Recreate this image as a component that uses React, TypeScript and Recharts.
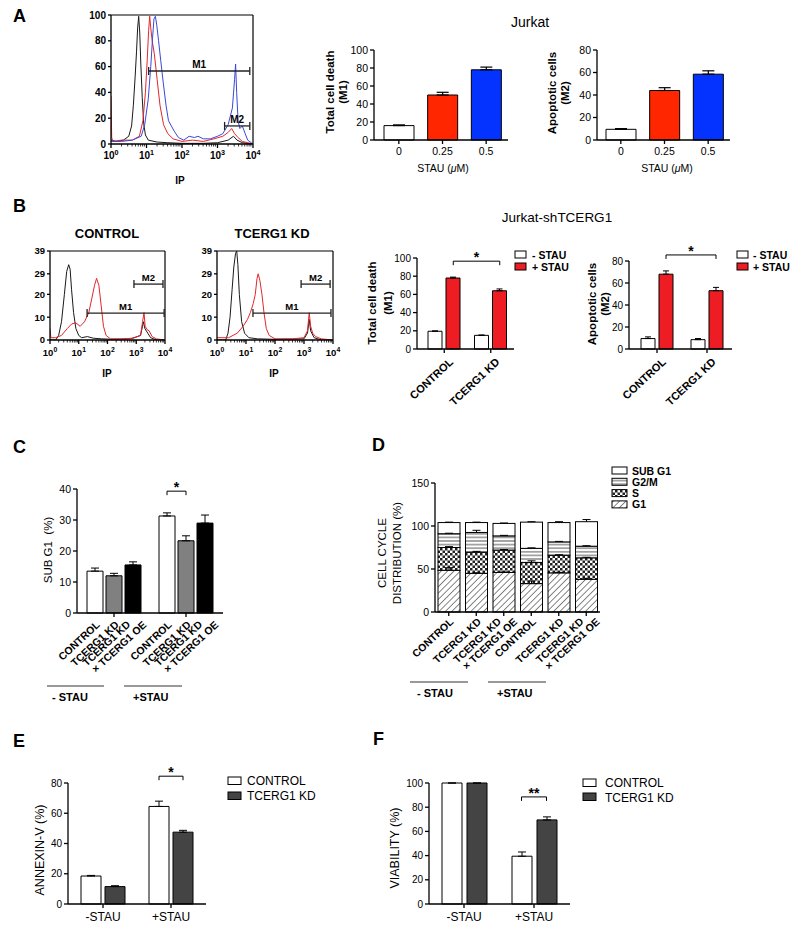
import React from 'react';
import { BarChart, Bar, XAxis, YAxis, LineChart, Line, ReferenceLine, ErrorBar, Cell } from 'recharts';

const FONT = '"Liberation Sans", Arial, Helvetica, sans-serif';

// ================= DATA =================
// Panel A histogram, x = log10(IP intensity), y = counts
const histA_black = [[0,3],[0.15,2],[0.35,3],[0.5,6],[0.58,14],[0.63,30],[0.68,52],[0.72,72],[0.75,90],[0.78,99],[0.81,86],[0.84,62],[0.88,36],[0.92,16],[0.97,7],[1.05,3],[1.3,1.5],[1.6,1],[2.0,0.5],[2.6,0.5],[3.0,1],[3.3,3],[3.45,6],[3.55,3],[3.7,1],[4,0]];
const histA_red = [[0,37],[0.02,5],[0.05,2],[0.3,3],[0.6,3],[0.8,6],[0.9,18],[0.97,40],[1.02,65],[1.06,88],[1.09,99],[1.12,90],[1.16,80],[1.22,70],[1.3,50],[1.38,30],[1.48,15],[1.6,8],[1.75,4],[2.0,2],[2.3,3],[2.6,2],[2.9,4],[3.15,6],[3.3,9],[3.4,12],[3.48,8],[3.58,5],[3.7,2],[3.85,1],[4,0]];
const histA_blue = [[0,2],[0.3,2],[0.6,3],[0.85,6],[0.95,15],[1.05,35],[1.12,60],[1.17,82],[1.21,97],[1.25,99],[1.29,92],[1.34,80],[1.4,65],[1.47,48],[1.55,30],[1.62,18],[1.7,14],[1.78,10],[1.9,5],[2.05,3],[2.2,6],[2.35,5],[2.45,6],[2.6,4],[2.8,4],[3.0,6],[3.15,8],[3.3,15],[3.42,28],[3.48,50],[3.51,62],[3.54,40],[3.58,18],[3.63,12],[3.7,14],[3.78,8],[3.85,3],[3.95,1],[4,0]];
const gatesA = [
  { name: 'M1', from: 1.06, to: 3.91, level: 56.6 },
  { name: 'M2', from: 3.2, to: 3.91, level: 14 },
];

// Panel A bars
const A_doses = ['0', '0.25', '0.5'];
const A_totalDeath = [16, 50, 78];
const A_totalDeathErr = [0.8, 3, 3];
const A_apoptotic = [9.5, 44, 58.5];
const A_apoptoticErr = [0.6, 2.5, 3];

// Panel B histograms
const histB1_black = [[0,0],[0.2,0],[0.3,2],[0.4,8],[0.5,20],[0.58,30],[0.65,33],[0.7,31],[0.75,22],[0.82,12],[0.9,5],[1.0,2],[1.1,1],[1.3,1.5],[1.5,0.8],[1.8,0.5],[2.2,0.3],[2.8,0.5],[3.15,2],[3.25,8],[3.3,5],[3.4,3],[3.5,1],[3.7,0],[4,0]];
const histB1_red = [[0,5],[0.03,1],[0.2,1],[0.4,2],[0.6,5],[0.75,7],[0.9,7.5],[1.05,6],[1.2,8],[1.35,12],[1.45,18],[1.55,24],[1.62,27],[1.7,24],[1.78,15],[1.86,6],[1.95,2],[2.1,0.5],[2.5,0.5],[2.9,0.8],[3.15,2],[3.22,8],[3.27,12],[3.31,6],[3.38,4.5],[3.45,4],[3.55,1.5],[3.7,0.5],[4,0]];
const histB2_black = [[0,0],[0.3,0],[0.38,3],[0.45,10],[0.52,22],[0.58,32],[0.64,38],[0.68,39],[0.72,33],[0.77,20],[0.85,8],[0.95,3],[1.1,1],[1.4,0.5],[2,0.3],[3,0.5],[3.12,3],[3.18,9],[3.23,4],[3.35,1],[3.6,0],[4,0]];
const histB2_red = [[0,1],[0.4,1],[0.7,3],[0.9,6],[1.05,9],[1.15,12],[1.25,16],[1.32,20],[1.38,27],[1.42,29],[1.48,26],[1.55,20],[1.62,12],[1.7,5],[1.8,2],[2,0.5],[2.6,0.5],[3.0,1],[3.12,4],[3.18,12],[3.23,6],[3.3,3],[3.4,1.5],[3.6,0.5],[4,0]];
const gatesB1 = [
  { name: 'M1', from: 1.29, to: 3.97, level: 11.8 },
  { name: 'M2', from: 2.92, to: 3.93, level: 24.5 },
];
const gatesB2 = [
  { name: 'M1', from: 1.24, to: 3.93, level: 11.8 },
  { name: 'M2', from: 2.9, to: 3.9, level: 24.5 },
];

// Panel B bars
const B_groups = ['CONTROL', 'TCERG1 KD'];
const B_deathMinus = [19.5, 15];
const B_deathMinusErr = [0.4, 0.4];
const B_deathPlus = [78, 64];
const B_deathPlusErr = [1, 2];
const B_apopMinus = [9.5, 8.5];
const B_apopMinusErr = [1.5, 1];
const B_apopPlus = [68, 53];
const B_apopPlusErr = [3, 3];
const B1_sigLevel = 96.5;
const B2_sigLevel = 85.5;

// Panel C
const C_groups = ['- STAU', '+STAU'];
const C_barLabels = ['CONTROL', 'TCERG1 KD', 'TCERG1 KD × TCERG1 OE'];
const C_control = [13.5, 31.3];
const C_controlErr = [1, 1];
const C_kd = [12, 23.3];
const C_kdErr = [0.8, 1.6];
const C_oe = [15.5, 29];
const C_oeErr = [1, 2.6];
const C_sigLevel = 39.3;

// Panel D
const D_labels = ['CONTROL', 'TCERG1 KD', 'TCERG1 KD × TCERG1 OE', 'CONTROL', 'TCERG1 KD', 'TCERG1 KD × TCERG1 OE'];
const D_g1 = [48.5, 45, 46, 33, 45.5, 38];
const D_g1Err = [3, 0.6, 0.5, 3, 0.6, 1.2];
const D_s = [26.5, 24.5, 26, 24.5, 20.5, 25];
const D_sErr = [1, 1, 0.6, 2, 0.6, 0.6];
const D_g2m = [16, 23, 16.5, 16.5, 15.5, 13.5];
const D_g2mErr = [0.6, 2.5, 0.6, 0.6, 0.6, 0.6];
const D_sub = [13, 11.5, 14.5, 30.5, 22.5, 28.5];
const D_subErr = [0.5, 0.5, 0.5, 0.5, 1, 2.5];
const D_legend = ['SUB G1', 'G2/M', 'S', 'G1'];

// Panel E
const E_groups = ['-STAU', '+STAU'];
const E_control = [18.5, 64.5];
const E_controlErr = [0.4, 3.5];
const E_kd = [11.5, 47.5];
const E_kdErr = [0.6, 1.2];
const E_sigLevel = 84.5;

// Panel F
const F_groups = ['-STAU', '+STAU'];
const F_control = [100, 39.5];
const F_controlErr = [0, 3.5];
const F_kd = [100, 69.5];
const F_kdErr = [0, 2.5];
const F_sigLevel = 88.5;

// ================= STYLES =================
const A_colors = ['#ffffff', '#ff2600', '#0433ff'];
const B_red = '#ee1d23';
const C_gray = '#808080';
const EF_dark = '#444444';
const H_black = '#1a1a1a';
const H_red = '#e3262a';
const H_blue = '#3a48d8';
const D_fills = ['url(#pG1)', 'url(#pS)', 'url(#pG2M)', '#ffffff'];

// ================= TABLES =================
const toPts = (arr: number[][]) => arr.map(([x, y]) => ({ x, y }));
const rowsA1 = A_doses.map((d, i) => ({ dose: d, v: A_totalDeath[i], e: [0, A_totalDeathErr[i]] }));
const rowsA2 = A_doses.map((d, i) => ({ dose: d, v: A_apoptotic[i], e: [0, A_apoptoticErr[i]] }));
const rowsB1 = B_groups.map((g, i) => ({ g, minus: B_deathMinus[i], minusE: [0, B_deathMinusErr[i]], plus: B_deathPlus[i], plusE: [0, B_deathPlusErr[i]] }));
const rowsB2 = B_groups.map((g, i) => ({ g, minus: B_apopMinus[i], minusE: [0, B_apopMinusErr[i]], plus: B_apopPlus[i], plusE: [0, B_apopPlusErr[i]] }));
const rowsC = C_groups.map((g, i) => ({ g, control: C_control[i], controlE: [0, C_controlErr[i]], kd: C_kd[i], kdE: [0, C_kdErr[i]], oe: C_oe[i], oeE: [0, C_oeErr[i]] }));
const rowsD = D_labels.map((_, i) => ({ id: String(i), g1: D_g1[i], g1E: D_g1Err[i], s: D_s[i], sE: D_sErr[i], g2m: D_g2m[i], g2mE: D_g2mErr[i], sub: D_sub[i], subE: D_subErr[i] }));
const rowsE = E_groups.map((g, i) => ({ g, control: E_control[i], controlE: [0, E_controlErr[i]], kd: E_kd[i], kdE: [0, E_kdErr[i]] }));
const rowsF = F_groups.map((g, i) => ({ g, control: F_control[i], controlE: [0, F_controlErr[i]], kd: F_kd[i], kdE: [0, F_kdErr[i]] }));
const D_keys = ['g1', 's', 'g2m', 'sub'];

// ================= HELPERS =================
const At = ({ x, y, children }: any) => <div style={{ position: 'absolute', left: x, top: y }}>{children}</div>;

const LogTick = (p: any) => {
  const { x, y, payload, decade, fs, dy } = p;
  const v = payload.value;
  const ay = y - 6;
  const minors = v < 4 ? [2, 3, 4, 5, 6, 7, 8, 9].map((k) => x + Math.log10(k) * decade) : [];
  return (
    <g>
      {minors.map((mx, i) => (
        <line key={i} x1={mx} x2={mx} y1={ay} y2={ay + 2.5} stroke="#000" strokeWidth={0.8} />
      ))}
      <text x={x} y={y} dy={dy} textAnchor="middle" fontSize={fs} fontWeight="bold" fill="#000" fontFamily={FONT}>
        <tspan>10</tspan>
        <tspan dy={-fs * 0.45} fontSize={fs * 0.72}>{v}</tspan>
      </text>
    </g>
  );
};

const gateShape = (name: string, fs: number) => (p: any) => {
  const { x1, x2, y1 } = p;
  const c = '#222';
  return (
    <g>
      <line x1={x1} x2={x2} y1={y1} y2={y1} stroke={c} strokeWidth={1.3} />
      <line x1={x1} x2={x1} y1={y1 - 4} y2={y1 + 4} stroke={c} strokeWidth={1.3} />
      <line x1={x2} x2={x2} y1={y1 - 4} y2={y1 + 4} stroke={c} strokeWidth={1.3} />
      <text x={(x1 + x2) / 2} y={y1 - 3} textAnchor="middle" fontSize={fs} fontWeight="bold" fill="#000" fontFamily={FONT}>{name}</text>
    </g>
  );
};

const bracketShape = (dx1: number, dx2: number, label: string) => (p: any) => {
  const x1 = p.x1 + dx1;
  const x2 = p.x2 + dx2;
  const y = p.y1;
  return (
    <g>
      <path d={`M${x1},${y + 4} L${x1},${y} L${x2},${y} L${x2},${y + 4}`} fill="none" stroke="#000" strokeWidth={1} />
      <text x={(x1 + x2) / 2} y={y + 1} textAnchor="middle" fontSize={14} fontWeight="bold" fill="#000" fontFamily={FONT}>{label}</text>
    </g>
  );
};

function RotLabel({ ax, ay, text, fs, angle = -43 }: any) {
  const parts = text.split(' × ');
  const tr = `rotate(${angle} ${ax} ${ay})`;
  if (parts.length === 1) {
    return (
      <text x={ax} y={ay} dy="0.35em" transform={tr} textAnchor="end" fontSize={fs} fontWeight="bold" fill="#000" fontFamily={FONT}>{text}</text>
    );
  }
  return (
    <text x={ax} y={ay} transform={tr} textAnchor="end" fontSize={fs} fontWeight="bold" fill="#000" fontFamily={FONT}>
      <tspan x={ax - fs * 0.5} dy="-0.15em">{parts[0]}</tspan>
      <tspan x={ax + fs * 0.6} dy="1.05em">{'× ' + parts[1]}</tspan>
    </text>
  );
}

const BTick = (p: any) => <RotLabel ax={p.x + 7} ay={p.y + 5} text={p.payload.value} fs={11} />;
const CTick = (p: any) => (
  <g>
    {C_barLabels.map((lab, i) => (
      <RotLabel key={i} ax={p.x + (i - 1) * 19 + 3} ay={p.y + 4} text={lab} fs={10.5} />
    ))}
  </g>
);
const DTick = (p: any) => <RotLabel ax={p.x + 3} ay={p.y + 2} text={D_labels[Number(p.payload.value)]} fs={10.5} />;

const segShape = (idx: number) => (p: any) => {
  const { x, width, payload } = p;
  const y = Math.min(p.y, p.y + p.height);
  const h = Math.abs(p.height);
  const key = D_keys[idx];
  const seg = payload[key];
  const ppu = seg > 0 ? h / seg : 0;
  const cx = x + width / 2;
  const errs: { y0: number; len: number }[] = [];
  if (idx > 0) errs.push({ y0: y + h, len: payload[D_keys[idx - 1] + 'E'] * ppu });
  if (idx === D_keys.length - 1) errs.push({ y0: y, len: payload[key + 'E'] * ppu });
  return (
    <g>
      <rect x={x} y={y} width={width} height={h} fill={D_fills[idx]} stroke="#000" strokeWidth={1} />
      {errs.map((e, i) =>
        e.len > 0 ? (
          <g key={i}>
            <line x1={cx} x2={cx} y1={e.y0} y2={e.y0 - e.len} stroke="#000" strokeWidth={1} />
            <line x1={cx - 4} x2={cx + 4} y1={e.y0 - e.len} y2={e.y0 - e.len} stroke="#000" strokeWidth={1} />
          </g>
        ) : null
      )}
    </g>
  );
};

const AX = { stroke: '#000', strokeWidth: 1.3 };

function Histogram({ x, y, W, H, curves, gates, yMax, yTicks, decade, fs, tickDy }: any) {
  return (
    <At x={x} y={y}>
      <LineChart width={W} height={H} margin={{ top: 5, right: 8, bottom: 0, left: 0 }}>
        <XAxis type="number" dataKey="x" domain={[0, 4]} ticks={[0, 1, 2, 3, 4]} interval={0} height={H === 174 ? 40 : 30} {...AX} tickSize={4}
          tick={(p: any) => <LogTick {...p} decade={decade} fs={fs} dy={tickDy} />} allowDataOverflow />
        <YAxis type="number" domain={[0, yMax]} ticks={yTicks} interval={0} width={H === 174 ? 30 : 24} {...AX} tickSize={3}
          tick={{ fontSize: fs, fontWeight: 'bold', fill: '#000' }} allowDataOverflow />
        <ReferenceLine y={yMax} stroke="#000" strokeWidth={1.2} />
        <ReferenceLine x={4} stroke="#000" strokeWidth={1.2} />
        {curves.map((c: any, i: number) => (
          <Line key={i} data={toPts(c.data)} dataKey="y" type="linear" stroke={c.color} strokeWidth={1} dot={false} isAnimationActive={false} />
        ))}
        {gates.map((g: any) => (
          <ReferenceLine key={g.name} segment={[{ x: g.from, y: g.level }, { x: g.to, y: g.level }]} ifOverflow="visible" shape={gateShape(g.name, fs)} />
        ))}
      </LineChart>
    </At>
  );
}

function Overlay() {
  const T = (props: any) => <text fill="#000" fontFamily={FONT} {...props} />;
  const VT = ({ x, y, children, ...rest }: any) => (
    <text x={x} y={y} transform={`rotate(-90 ${x} ${y})`} textAnchor="middle" fill="#000" fontFamily={FONT} {...rest}>{children}</text>
  );
  const letter = { fontSize: 18, fontWeight: 'bold' };
  return (
    <svg width={800} height={936} style={{ position: 'absolute', left: 0, top: 0, pointerEvents: 'none' }}>
      <defs>
        <pattern id="pG1" width="4.5" height="4.5" patternUnits="userSpaceOnUse" patternTransform="rotate(45)">
          <rect width="4.5" height="4.5" fill="#fff" />
          <line x1="0" y1="0" x2="0" y2="4.5" stroke="#222" strokeWidth="1.1" />
        </pattern>
        <pattern id="pS" width="5" height="5" patternUnits="userSpaceOnUse">
          <rect width="5" height="5" fill="#fff" />
          <rect x="0" y="0" width="2.5" height="2.5" fill="#222" />
          <rect x="2.5" y="2.5" width="2.5" height="2.5" fill="#222" />
        </pattern>
        <pattern id="pG2M" width="4" height="3.6" patternUnits="userSpaceOnUse">
          <rect width="4" height="3.6" fill="#fff" />
          <line x1="0" y1="1.8" x2="4" y2="1.8" stroke="#555" strokeWidth="1" />
        </pattern>
      </defs>

      {/* panel letters */}
      <T x={13} y={22} {...letter}>A</T>
      <T x={13} y={212} {...letter}>B</T>
      <T x={13} y={453} {...letter}>C</T>
      <T x={372} y={451} {...letter}>D</T>
      <T x={13} y={747} {...letter}>E</T>
      <T x={373} y={745} {...letter}>F</T>

      {/* titles */}
      <T x={530} y={27} fontSize={14} textAnchor="middle">Jurkat</T>
      <T x={557} y={222} fontSize={13.5} textAnchor="middle">Jurkat-shTCERG1</T>
      <T x={107} y={238} fontSize={13} fontWeight="bold" textAnchor="middle">CONTROL</T>
      <T x={272} y={238} fontSize={13} fontWeight="bold" textAnchor="middle">TCERG1 KD</T>

      {/* IP labels */}
      <T x={180} y={184} fontSize={10} fontWeight="bold" textAnchor="middle">IP</T>
      <T x={107} y={377} fontSize={10} fontWeight="bold" textAnchor="middle">IP</T>
      <T x={274} y={377} fontSize={10} fontWeight="bold" textAnchor="middle">IP</T>

      {/* A x titles */}
      <T x={443} y={172} fontSize={10.5} textAnchor="middle">STAU (<tspan fontStyle="italic">μ</tspan>M)</T>
      <T x={667} y={172} fontSize={10.5} textAnchor="middle">STAU (<tspan fontStyle="italic">μ</tspan>M)</T>

      {/* y labels */}
      <VT x={334} y={92} fontSize={11.5} fontWeight="bold">Total cell death</VT>
      <VT x={347} y={92} fontSize={11.5} fontWeight="bold">(M1)</VT>
      <VT x={556} y={93} fontSize={11.5} fontWeight="bold">Apoptotic cells</VT>
      <VT x={569} y={93} fontSize={11.5} fontWeight="bold">(M2)</VT>
      <VT x={376} y={303} fontSize={11.5} fontWeight="bold">Total cell death</VT>
      <VT x={392} y={303} fontSize={11.5} fontWeight="bold">(M1)</VT>
      <VT x={596} y={304} fontSize={11.5} fontWeight="bold">Apoptotic cells</VT>
      <VT x={609} y={304} fontSize={11.5} fontWeight="bold">(M2)</VT>
      <VT x={52} y={550} fontSize={11.5}>{'SUB G1\u00a0 (%)'}</VT>
      <VT x={386} y={553} fontSize={11.5}>CELL CYCLE</VT>
      <VT x={401} y={553} fontSize={11.5}>DISTRIBUTION (%)</VT>
      <VT x={44} y={850} fontSize={12.5}>ANNEXIN-V (%)</VT>
      <VT x={399} y={848} fontSize={12.5}>VIABILITY (%)</VT>

      {/* B legends */}
      <rect x={515} y={251} width={11} height={7} fill="#fff" stroke="#000" />
      <rect x={515} y={263} width={11} height={7} fill={B_red} stroke="#000" />
      <T x={532} y={258.5} fontSize={10.5} fontWeight="bold">- STAU</T>
      <T x={532} y={270.5} fontSize={10.5} fontWeight="bold">+ STAU</T>
      <rect x={737} y={251} width={11} height={7} fill="#fff" stroke="#000" />
      <rect x={737} y={263} width={11} height={7} fill={B_red} stroke="#000" />
      <T x={753} y={258.5} fontSize={10.5} fontWeight="bold">- STAU</T>
      <T x={753} y={270.5} fontSize={10.5} fontWeight="bold">+ STAU</T>

      {/* D legend */}
      {D_legend.map((name, i) => (
        <g key={name}>
          <rect x={612} y={467 + i * 11.3} width={15} height={7} fill={D_fills[3 - i]} stroke="#000" />
          <T x={632} y={474.5 + i * 11.3} fontSize={10.5} fontWeight="bold">{name}</T>
        </g>
      ))}

      {/* E legend */}
      <rect x={228} y={777} width={13} height={7.5} fill="#fff" stroke="#000" />
      <rect x={228} y={792} width={13} height={7.5} fill={EF_dark} stroke="#000" />
      <T x={247} y={785} fontSize={12}>CONTROL</T>
      <T x={247} y={799.5} fontSize={12}>TCERG1 KD</T>
      {/* F legend */}
      <rect x={583} y={779} width={13} height={7.5} fill="#fff" stroke="#000" />
      <rect x={583} y={793} width={13} height={7.5} fill={EF_dark} stroke="#000" />
      <T x={605} y={787} fontSize={12}>CONTROL</T>
      <T x={605} y={801.5} fontSize={12}>TCERG1 KD</T>

      {/* C / D treatment group lines */}
      <line x1={47} x2={104} y1={686} y2={686} stroke="#777" strokeWidth={1.5} />
      <line x1={124} x2={182} y1={686} y2={686} stroke="#777" strokeWidth={1.5} />
      <T x={52} y={701} fontSize={11} fontWeight="bold">- STAU</T>
      <T x={133} y={701} fontSize={11} fontWeight="bold">+STAU</T>
      <line x1={410} x2={468} y1={682} y2={682} stroke="#777" strokeWidth={1.5} />
      <line x1={488} x2={546} y1={682} y2={682} stroke="#777" strokeWidth={1.5} />
      <T x={417} y={697} fontSize={11} fontWeight="bold">- STAU</T>
      <T x={497} y={697} fontSize={11} fontWeight="bold">+STAU</T>
    </svg>
  );
}

const tk = (fs: number) => ({ fontSize: fs, fill: '#000' });

export default function App() {
  return (
    <div style={{ position: 'absolute', left: 0, top: 0, width: 800, height: 936, background: '#fff', fontFamily: FONT, overflow: 'hidden' }}>
      {/* ===== A histogram ===== */}
      <Histogram x={81} y={10} W={180} H={174} yMax={100} yTicks={[0, 20, 40, 60, 80, 100]} decade={35} fs={10} tickDy="0.9em"
        curves={[{ data: histA_black, color: H_black }, { data: histA_red, color: H_red }, { data: histA_blue, color: H_blue }]} gates={gatesA} />

      {/* ===== A bars ===== */}
      <At x={342} y={45}>
        <BarChart width={166} height={131} data={rowsA1} margin={{ top: 5, right: 0, bottom: 0, left: 0 }}>
          <XAxis dataKey="dose" {...AX} tickSize={4} tickMargin={4} height={36} padding={{ left: 3, right: 0 }} tick={tk(10.5)} interval={0} />
          <YAxis domain={[0, 100]} ticks={[0, 20, 40, 60, 80, 100]} interval={0} width={32} {...AX} tickSize={4} tick={tk(10.5)} />
          <Bar dataKey="v" barSize={30} stroke="#000" strokeWidth={1} isAnimationActive={false}>
            {rowsA1.map((r, i) => <Cell key={r.dose} fill={A_colors[i]} />)}
            <ErrorBar dataKey="e" width={6} stroke="#000" strokeWidth={1.2} direction="y" />
          </Bar>
        </BarChart>
      </At>
      <At x={565} y={45}>
        <BarChart width={165} height={131} data={rowsA2} margin={{ top: 5, right: 0, bottom: 0, left: 0 }}>
          <XAxis dataKey="dose" {...AX} tickSize={4} tickMargin={4} height={36} padding={{ left: 2, right: 0 }} tick={tk(10.5)} interval={0} />
          <YAxis domain={[0, 80]} ticks={[0, 20, 40, 60, 80]} interval={0} width={32} {...AX} tickSize={4} tick={tk(10.5)} />
          <Bar dataKey="v" barSize={30} stroke="#000" strokeWidth={1} isAnimationActive={false}>
            {rowsA2.map((r, i) => <Cell key={r.dose} fill={A_colors[i]} />)}
            <ErrorBar dataKey="e" width={6} stroke="#000" strokeWidth={1.2} direction="y" />
          </Bar>
        </BarChart>
      </At>

      {/* ===== B histograms ===== */}
      <Histogram x={26} y={246} W={147} H={124} yMax={39} yTicks={[0, 10, 20, 29, 39]} decade={28.75} fs={9.5} tickDy="1.05em"
        curves={[{ data: histB1_black, color: H_black }, { data: histB1_red, color: H_red }]} gates={gatesB1} />
      <Histogram x={193} y={246} W={148} H={124} yMax={39} yTicks={[0, 10, 20, 29, 39]} decade={29} fs={9.5} tickDy="1.05em"
        curves={[{ data: histB2_black, color: H_black }, { data: histB2_red, color: H_red }]} gates={gatesB2} />

      {/* ===== B bars ===== */}
      <At x={387} y={236}>
        <BarChart width={127} height={173} data={rowsB1} margin={{ top: 22, right: 0, bottom: 0, left: 0 }} barGap={4}>
          <XAxis dataKey="g" {...AX} tickSize={4} height={60} padding={{ left: 4, right: 0 }} interval={0} tick={BTick} />
          <YAxis domain={[0, 100]} ticks={[0, 20, 40, 60, 80, 100]} interval={0} width={30} {...AX} tickSize={4} tick={tk(10)} />
          <Bar dataKey="minus" barSize={14} fill="#fff" stroke="#000" strokeWidth={1} isAnimationActive={false}>
            <ErrorBar dataKey="minusE" width={3} stroke="#000" strokeWidth={1} direction="y" />
          </Bar>
          <Bar dataKey="plus" barSize={14} fill={B_red} stroke="#000" strokeWidth={1} isAnimationActive={false}>
            <ErrorBar dataKey="plusE" width={3} stroke="#000" strokeWidth={1} direction="y" />
          </Bar>
          <ReferenceLine segment={[{ x: B_groups[0], y: B1_sigLevel }, { x: B_groups[1], y: B1_sigLevel }]} ifOverflow="visible" shape={bracketShape(9, 9, '*')} />
        </BarChart>
      </At>
      <At x={599} y={236}>
        <BarChart width={133} height={173} data={rowsB2} margin={{ top: 25, right: 0, bottom: 0, left: 0 }} barGap={4}>
          <XAxis dataKey="g" {...AX} tickSize={4} height={60} padding={{ left: 3, right: 0 }} interval={0} tick={BTick} />
          <YAxis domain={[0, 80]} ticks={[0, 20, 40, 60, 80]} interval={0} width={30} {...AX} tickSize={4} tick={tk(10)} />
          <Bar dataKey="minus" barSize={14} fill="#fff" stroke="#000" strokeWidth={1} isAnimationActive={false}>
            <ErrorBar dataKey="minusE" width={3} stroke="#000" strokeWidth={1} direction="y" />
          </Bar>
          <Bar dataKey="plus" barSize={14} fill={B_red} stroke="#000" strokeWidth={1} isAnimationActive={false}>
            <ErrorBar dataKey="plusE" width={3} stroke="#000" strokeWidth={1} direction="y" />
          </Bar>
          <ReferenceLine segment={[{ x: B_groups[0], y: B2_sigLevel }, { x: B_groups[1], y: B2_sigLevel }]} ifOverflow="visible" shape={bracketShape(9, 9, '*')} />
        </BarChart>
      </At>

      {/* ===== C ===== */}
      <At x={37} y={474}>
        <BarChart width={191} height={214} data={rowsC} margin={{ top: 15, right: 5, bottom: 0, left: 0 }} barGap={3}>
          <XAxis dataKey="g" {...AX} tickSize={4} height={75} padding={{ left: 1, right: 1 }} interval={0} tick={CTick} />
          <YAxis domain={[0, 40]} ticks={[0, 10, 20, 30, 40]} interval={0} width={40} {...AX} tickSize={4} tick={tk(10.5)} />
          <Bar dataKey="control" barSize={16} fill="#fff" stroke="#000" strokeWidth={1} isAnimationActive={false}>
            <ErrorBar dataKey="controlE" width={4} stroke="#000" strokeWidth={1} direction="y" />
          </Bar>
          <Bar dataKey="kd" barSize={16} fill={C_gray} stroke="#000" strokeWidth={1} isAnimationActive={false}>
            <ErrorBar dataKey="kdE" width={4} stroke="#000" strokeWidth={1} direction="y" />
          </Bar>
          <Bar dataKey="oe" barSize={16} fill="#000" stroke="#000" strokeWidth={1} isAnimationActive={false}>
            <ErrorBar dataKey="oeE" width={4} stroke="#000" strokeWidth={1} direction="y" />
          </Bar>
          <ReferenceLine segment={[{ x: C_groups[1], y: C_sigLevel }, { x: C_groups[1], y: C_sigLevel }]} ifOverflow="visible" shape={bracketShape(-19, 0, '*')} />
        </BarChart>
      </At>

      {/* ===== D ===== */}
      <At x={400} y={478}>
        <BarChart width={205} height={209} data={rowsD} margin={{ top: 5, right: 5, bottom: 0, left: 0 }}>
          <XAxis dataKey="id" {...AX} tickSize={4} height={75} interval={0} tick={DTick} />
          <YAxis domain={[0, 150]} ticks={[0, 50, 100, 150]} interval={0} width={35} {...AX} tickSize={4} tick={tk(10.5)} />
          {D_keys.map((k, i) => (
            <Bar key={k} dataKey={k} stackId="cc" barSize={22} fill={D_fills[i]} isAnimationActive={false} shape={segShape(i)} />
          ))}
        </BarChart>
      </At>

      {/* ===== E ===== */}
      <At x={38} y={755}>
        <BarChart width={173} height={179} data={rowsE} margin={{ top: 28, right: 5, bottom: 0, left: 0 }} barGap={4}>
          <XAxis dataKey="g" {...AX} tickSize={4} tickMargin={4} height={30} padding={{ left: 1, right: 1 }} interval={0} tick={tk(12)} />
          <YAxis domain={[0, 80]} ticks={[0, 20, 40, 60, 80]} interval={0} width={30} {...AX} tickSize={4} tick={tk(10)} />
          <Bar dataKey="control" barSize={20} fill="#fff" stroke="#000" strokeWidth={1} isAnimationActive={false}>
            <ErrorBar dataKey="controlE" width={4} stroke="#000" strokeWidth={1} direction="y" />
          </Bar>
          <Bar dataKey="kd" barSize={20} fill={EF_dark} stroke="#000" strokeWidth={1} isAnimationActive={false}>
            <ErrorBar dataKey="kdE" width={4} stroke="#000" strokeWidth={1} direction="y" />
          </Bar>
          <ReferenceLine segment={[{ x: E_groups[1], y: E_sigLevel }, { x: E_groups[1], y: E_sigLevel }]} ifOverflow="visible" shape={bracketShape(-12, 12, '*')} />
        </BarChart>
      </At>

      {/* ===== F ===== */}
      <At x={399} y={755}>
        <BarChart width={176} height={179} data={rowsF} margin={{ top: 28, right: 5, bottom: 0, left: 0 }} barGap={5}>
          <XAxis dataKey="g" {...AX} tickSize={4} tickMargin={4} height={30} padding={{ left: 0, right: 1 }} interval={0} tick={tk(12)} />
          <YAxis domain={[0, 100]} ticks={[0, 20, 40, 60, 80, 100]} interval={0} width={30} {...AX} tickSize={4} tick={tk(10)} />
          <Bar dataKey="control" barSize={20} fill="#fff" stroke="#000" strokeWidth={1} isAnimationActive={false}>
            <ErrorBar dataKey="controlE" width={4} stroke="#000" strokeWidth={1} direction="y" />
          </Bar>
          <Bar dataKey="kd" barSize={20} fill={EF_dark} stroke="#000" strokeWidth={1} isAnimationActive={false}>
            <ErrorBar dataKey="kdE" width={4} stroke="#000" strokeWidth={1} direction="y" />
          </Bar>
          <ReferenceLine segment={[{ x: F_groups[1], y: F_sigLevel }, { x: F_groups[1], y: F_sigLevel }]} ifOverflow="visible" shape={bracketShape(-12.5, 12.5, '**')} />
        </BarChart>
      </At>

      <Overlay />
    </div>
  );
}
